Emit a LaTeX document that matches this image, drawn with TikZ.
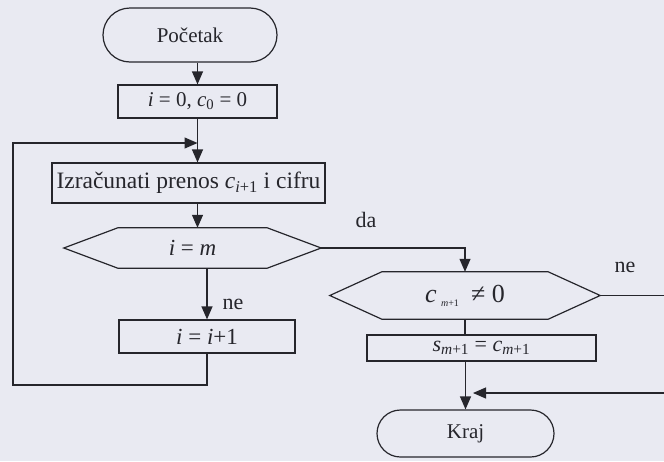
\documentclass[tikz,border=0pt]{standalone}
\usepackage{fontspec}
\setmainfont{Liberation Serif}
\usetikzlibrary{arrows.meta}
\definecolor{paper}{RGB}{233,234,242}
\definecolor{ink}{RGB}{38,38,44}
\newcommand\myit[1]{\textit{#1}}
\newcommand\mysb[1]{\textsubscript{#1}}
\newcommand\fsz[1]{\fontsize{#1}{#1}\selectfont}
\newcommand\hexdraw[2]{\draw[line] (#1.west) -- ([xshift=#2]#1.north west) -- ([xshift=-#2]#1.north east) -- (#1.east) -- ([xshift=-#2]#1.south east) -- ([xshift=#2]#1.south west) -- cycle;}
\tikzset{
  line/.style={draw=ink, line width=1.2pt},
  arr/.style={line, -{Triangle[length=13pt,width=11pt]}},
  term/.style={line, rectangle, inner sep=0pt, text=ink},
  procbox/.style={line, rectangle, inner sep=0pt, text=ink},
  hexnode/.style={rectangle, inner sep=0pt, text=ink},
  lbl/.style={text=ink, inner sep=0pt, font=\fsz{22}}
}
\begin{document}
\begin{tikzpicture}[x=1pt,y=-1pt]
\fill[paper] (0,0) rectangle (664,461);
\useasboundingbox (0,0) rectangle (664,461);
\clip (0,0) rectangle (664,461);

\node[term, minimum width=174pt, minimum height=54pt, rounded corners=27pt, font=\fsz{21}] (start) at (190,35) {Početak};
\node[procbox, minimum width=159pt, minimum height=33pt, font=\fsz{21}] (init) at (197.5,101.5) {\myit{i} = 0, \myit{c}\mysb{0} = 0};
\node[procbox, minimum width=273pt, minimum height=40pt, font=\fsz{23.5}] (calc) at (188.5,183) {Izračunati prenos \myit{c}\mysb{\myit{i}+1} i cifru};
\node[hexnode, minimum width=257pt, minimum height=40pt, font=\fsz{23}] (hex1) at (192.5,248) {\myit{i} = \myit{m}};
\hexdraw{hex1}{54}
\node[procbox, minimum width=176pt, minimum height=33pt, font=\fsz{23}] (inc) at (207,336.5) {\myit{i} = \myit{i}+1};
\node[hexnode, minimum width=270pt, minimum height=47pt, font=\fsz{26}] (hex2) at (465,295.5) {\myit{c}\,\textsubscript{\fsz{10}\myit{m}+1}\;\,≠ 0};
\hexdraw{hex2}{52}
\node[procbox, minimum width=229pt, minimum height=26pt, font=\fsz{22}] (sm) at (481.5,348) {\myit{s}\mysb{\myit{m}+1} = \myit{c}\mysb{\myit{m}+1}};
\node[term, minimum width=177pt, minimum height=47pt, rounded corners=23.5pt, font=\fsz{21}] (kraj) at (465.5,433.5) {Kraj};

\coordinate (join) at (197.5,143);
\coordinate (lc) at (13,385);
\coordinate (rc) at (700,295.5);
\coordinate (kin) at (473,393);

\draw[arr] (init.north |- start.south) -- (init.north);
\draw[arr] (init.south) -- (init.south |- calc.north);
\draw[arr] (init.south |- calc.south) -- (init.south |- hex1.north);
\draw[arr] (inc.north |- hex1.south) -- (inc.north);
\draw[arr] (inc.south) |- (lc) |- (join);
\draw[arr] (hex1.east) -| (hex2.north);
\draw[line] (hex2.south) -- (hex2.south |- sm.north);
\draw[arr] (kraj.north |- sm.south) -- (kraj.north);
\draw[arr] (hex2.east) -- (rc) |- (kin);

\node[lbl] at (233,304) {ne};
\node[lbl] at (366,220) {da};
\node[lbl] at (625,267) {ne};
\end{tikzpicture}
\end{document}
